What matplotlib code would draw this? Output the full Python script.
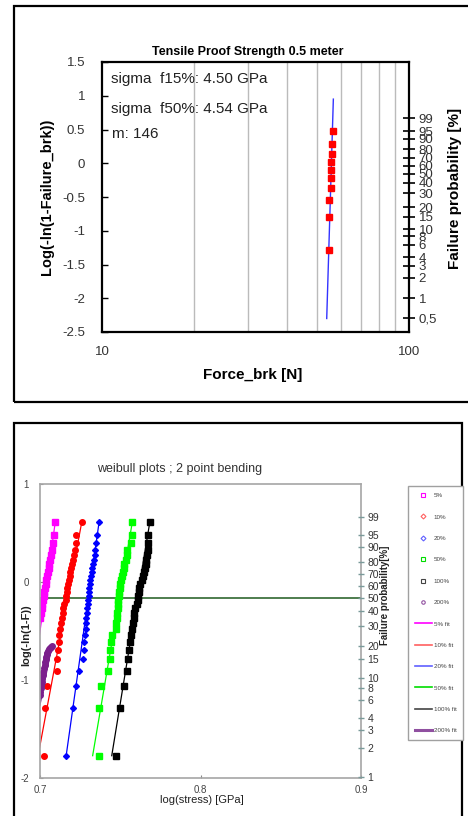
import numpy as np
import matplotlib
matplotlib.use("Agg")
import matplotlib.pyplot as plt
from matplotlib.patches import Rectangle
from matplotlib.lines import Line2D
from matplotlib.ticker import NullFormatter

plt.rcParams['font.family'] = ['Liberation Sans', 'DejaVu Sans']
NARROW = ['Liberation Sans Narrow', 'Liberation Sans', 'DejaVu Sans']

# ---- top chart: tensile proof strength ----
top_prob = [5, 15, 25, 35, 45, 55, 65, 75, 85, 95]          # failure prob [%]
top_force = [55.0, 55.0, 55.0, 55.7, 55.7, 55.7, 55.7, 56.0, 56.0, 56.4]
top_fit_force = [53.95, 56.7]
top_fit_y = [-2.30, 0.95]
top_yticks = [-2.5, -2, -1.5, -1, -0.5, 0, 0.5, 1, 1.5]
top_yticklabels = ['-2.5', '-2', '-1.5', '-1', '-0.5', '0', '0.5', '1', '1.5']
top_prob_ticks = [0.5, 1, 2, 3, 4, 6, 8, 10, 15, 20, 30, 40, 50, 60, 70, 80, 90, 95, 99]
top_prob_labels = ['0,5', '1', '2', '3', '4', '6', '8', '10', '15', '20', '30', '40',
                   '50', '60', '70', '80', '90', '95', '99']
top_notes = ['sigma  f15%: 4.50 GPa', 'sigma  f50%: 4.54 GPa', 'm: 146']

# ---- bottom chart: weibull plots, 2 point bending ----
rank_prob_30 = [1.667, 5.0, 8.333, 11.667, 15.0, 18.333, 21.667, 25.0, 28.333, 31.667,
                35.0, 38.333, 41.667, 45.0, 48.333, 51.667, 55.0, 58.333, 61.667, 65.0,
                68.333, 71.667, 75.0, 78.333, 81.667, 85.0, 88.333, 91.667, 95.0, 98.333]
stress_5 = [0.7003, 0.7006, 0.7011, 0.7014, 0.7017, 0.7022, 0.7026, 0.7031, 0.7036, 0.7040,
            0.7044, 0.7049, 0.7054, 0.7059, 0.7064, 0.7069, 0.7073, 0.7078, 0.7089, 0.7095]
stress_10 = [0.7027, 0.7031, 0.7044, 0.7106, 0.7108, 0.7112, 0.7117, 0.7120, 0.7125, 0.7133,
             0.7137, 0.7141, 0.7145, 0.7150, 0.7162, 0.7164, 0.7166, 0.7170, 0.7176, 0.7181,
             0.7185, 0.7189, 0.7195, 0.7199, 0.7208, 0.7212, 0.7218, 0.7222, 0.7226, 0.7260]
stress_20 = [0.7160, 0.7204, 0.7226, 0.7245, 0.7266, 0.7272, 0.7276, 0.7280, 0.7285, 0.7287,
             0.7289, 0.7293, 0.7295, 0.7297, 0.7301, 0.7303, 0.7305, 0.7307, 0.7312, 0.7313,
             0.7318, 0.7322, 0.7326, 0.7330, 0.7335, 0.7341, 0.7345, 0.7349, 0.7357, 0.7368]
stress_50 = [0.7368, 0.7370, 0.7380, 0.7426, 0.7436, 0.7438, 0.7444, 0.7449, 0.7472, 0.7475,
             0.7480, 0.7482, 0.7484, 0.7486, 0.7488, 0.7490, 0.7492, 0.7497, 0.7500, 0.7505,
             0.7513, 0.7519, 0.7523, 0.7525, 0.7536, 0.7540, 0.7544, 0.7567, 0.7571, 0.7575]
stress_100 = [0.7475, 0.7498, 0.7523, 0.7540, 0.7550, 0.7555, 0.7561, 0.7567, 0.7573, 0.7579,
              0.7584, 0.7588, 0.7594, 0.7603, 0.7609, 0.7611, 0.7615, 0.7619, 0.7625, 0.7634,
              0.7640, 0.7648, 0.7654, 0.7659, 0.7662, 0.7667, 0.7671, 0.7673, 0.7675, 0.7684]
stress_200 = [0.7073, 0.7067, 0.7062, 0.7056, 0.7052, 0.7046, 0.7042, 0.7040, 0.7036, 0.7033,
              0.7029, 0.7025, 0.7021, 0.7017, 0.7013, 0.7011, 0.7006, 0.7004, 0.7002, 0.7000]
y_200 = [-0.650, -0.660, -0.671, -0.687, -0.701, -0.722, -0.738, -0.762, -0.790, -0.813,
         -0.848, -0.882, -0.916, -0.950, -0.984, -1.018, -1.052, -1.086, -1.121, -1.154]

fit_x = {'5%': [0.6990, 0.7095], '10%': [0.6988, 0.7260], '20%': [0.7163, 0.7368],
         '50%': [0.7328, 0.7575], '100%': [0.7447, 0.7684], '200%': [0.6998, 0.7073]}
fit_y = {'5%': [-0.62, 0.612], '10%': [-1.775, 0.612], '20%': [-1.775, 0.612],
         '50%': [-1.775, 0.612], '100%': [-1.775, 0.612], '200%': [-1.26, -0.65]}
bot_prob_ticks = [1, 2, 3, 4, 6, 8, 10, 15, 20, 30, 40, 50, 60, 70, 80, 90, 95, 99]


def weibull_y(p):
    p = np.asarray(p, dtype=float) / 100.0
    return np.log10(-np.log(1.0 - p))


fig = plt.figure(figsize=(4.68, 8.16), dpi=100)

# outer frames
fig.patches.append(Rectangle((14 / 468, 1 - 402 / 816), 1.0, 396 / 816, transform=fig.transFigure,
                             fill=False, ec='black', lw=1.6, clip_on=False))
fig.patches.append(Rectangle((14 / 468, -0.02), 448 / 468, 393 / 816 + 0.02, transform=fig.transFigure,
                             fill=False, ec='black', lw=1.6, clip_on=False))

# ================= top chart =================
ax = fig.add_axes([102 / 468, 1 - 332 / 816, 307 / 468, 270 / 816])
ax.set_xscale('log')
ax.set_xlim(10, 100)
ax.set_ylim(-2.5, 1.5)
ax.set_xticks([10, 100])
ax.set_xticklabels(['10', '100'])
ax.set_xticks([20, 30, 40, 50, 60, 70, 80, 90], minor=True)
ax.xaxis.set_minor_formatter(NullFormatter())
ax.grid(True, which='minor', axis='x', color='#BBBBBB', lw=1)
ax.set_axisbelow(True)
ax.set_yticks(top_yticks)
ax.set_yticklabels(top_yticklabels)
ax.tick_params(axis='y', direction='in', length=4, width=1, labelsize=9.5, labelcolor='#333333', pad=12)
ax.tick_params(axis='x', which='both', length=0, labelsize=9.5, labelcolor='#333333', pad=10)
for s in ax.spines.values():
    s.set_linewidth(1.6)

ax.plot(top_fit_force, top_fit_y, color='#3333FF', lw=1)
ax.plot(top_force, weibull_y(top_prob), 's', color='#FF0000', ms=4.5, mec='#FF0000')

ax.text(0.4756, 1.037, 'Tensile Proof Strength 0.5 meter', transform=ax.transAxes,
        ha='center', va='center', fontsize=9, fontweight='bold')
for txt, yy, xx in zip(top_notes, [0.937, 0.826, 0.733], [0.029, 0.029, 0.033]):
    ax.text(xx, yy, txt, transform=ax.transAxes, ha='left', va='center', fontsize=11, color='#222222')

ax.set_xlabel('Force_brk [N]', fontsize=11, fontweight='bold')
ax.xaxis.set_label_coords(0.49, -0.135)
ax.set_ylabel('Log(-ln(1-Failure_brk))', fontsize=10.5, fontweight='bold')
ax.yaxis.set_label_coords(-0.156, 0.5)

ax2 = ax.twinx()
ax2.set_ylim(-2.5, 1.5)
ax2.set_yticks(weibull_y(top_prob_ticks))
ax2.set_yticklabels(top_prob_labels)
ax2.tick_params(axis='y', direction='inout', length=8, width=1.2, labelsize=9.5,
                labelcolor='#333333', pad=3)
for s in ax2.spines.values():
    s.set_visible(False)
ax2.set_ylabel('Failure probability [%]', fontsize=11, fontweight='bold')
ax2.yaxis.set_label_coords(1.127, 0.533)

# ================= bottom chart =================
bx = fig.add_axes([40 / 468, 1 - 777.7 / 816, 321 / 468, 293.4 / 816])
bx.set_xlim(0.7, 0.9)
bx.set_ylim(-2, 1)
bx.set_xticks([0.7, 0.8, 0.9])
bx.set_xticklabels(['0.7', '0.8', '0.9'])
bx.set_yticks([-2, -1, 0, 1])
bx.set_yticklabels(['-2', '-1', '0', '1'])
bx.tick_params(direction='in', length=2, width=0.8, color='#888888', labelsize=7,
               labelcolor='#444444')
bx.tick_params(axis='y', pad=8)
bx.tick_params(axis='x', pad=5)
for lab in bx.get_xticklabels() + bx.get_yticklabels():
    lab.set_family(NARROW)
for s in bx.spines.values():
    s.set_color('#A6A6A6')
    s.set_linewidth(1.2)

bx.axhline(weibull_y(50), color='#4E7D4E', lw=1.4)

series = [
    ('5%', stress_5, rank_prob_30[10:], '#FF00FF', 's', 4),
    ('10%', stress_10, rank_prob_30, '#FF0000', 'o', 4),
    ('20%', stress_20, rank_prob_30, '#0000FF', 'D', 3),
    ('50%', stress_50, rank_prob_30, '#00FF00', 's', 4),
    ('100%', stress_100, rank_prob_30, '#000000', 's', 4),
]
for name, xs, ps, col, mk, ms in series:
    bx.plot(fit_x[name], fit_y[name], color=col, lw=0.9)
    bx.plot(xs, weibull_y(ps), mk, color=col, ms=ms, mec=col)
bx.plot(fit_x['200%'], fit_y['200%'], color='#7B1F8C', lw=1.2)
bx.plot(stress_200, y_200, 'o', color='#7B1F8C', ms=4, mec='#7B1F8C')

bx.text(0.436, 1.052, 'weibull plots ; 2 point bending', transform=bx.transAxes,
        ha='center', va='center', fontsize=9, family=NARROW, color='#333333')
bx.set_xlabel('log(stress) [GPa]', fontsize=8, family=NARROW, color='#222222')
bx.xaxis.set_label_coords(0.505, -0.058)
bx.set_ylabel('log(-ln(1-F))', fontsize=8, fontweight='bold', color='#222222')
bx.yaxis.set_label_coords(-0.028, 0.486)

bx2 = bx.twinx()
bx2.set_ylim(-2, 1)
bx2.set_yticks(weibull_y(bot_prob_ticks))
bx2.set_yticklabels([str(p) for p in bot_prob_ticks])
bx2.tick_params(axis='y', direction='inout', length=5, width=1, color='#7A9A9A',
                labelsize=7.5, labelcolor='#333333', pad=2)
for lab in bx2.get_yticklabels():
    lab.set_family(NARROW)
for s in bx2.spines.values():
    s.set_visible(False)
bx2.set_ylabel('Failure probability[%]', fontsize=7, fontweight='bold', color='#222222')
bx2.yaxis.set_label_coords(1.059, 0.62)

# legend
leg_cols = {'5%': '#FF00FF', '10%': '#FF6060', '20%': '#6060FF', '50%': '#00DD00',
            '100%': '#444444', '200%': '#9050A0'}
leg_marks = {'5%': 's', '10%': 'D', '20%': 'D', '50%': 's', '100%': 's', '200%': 'o'}
handles = []
for name in ['5%', '10%', '20%', '50%', '100%', '200%']:
    handles.append(Line2D([], [], ls='none', marker=leg_marks[name], mfc='none',
                          mec=leg_cols[name], ms=2.5, mew=0.8, label=name))
for name in ['5%', '10%', '20%', '50%', '100%', '200%']:
    handles.append(Line2D([], [], color=leg_cols[name], lw=2.2 if name == '200%' else 1.2,
                          label=name + ' fit'))
leg = fig.legend(handles=handles, loc='upper left', bbox_to_anchor=(408 / 468, 1 - 486 / 816),
                 fontsize=4.5, labelspacing=2.56, borderpad=1.1, handlelength=2.7,
                 handletextpad=0.3, fancybox=False, edgecolor='#A0A0A0', framealpha=1,
                 borderaxespad=0)
leg.get_frame().set_linewidth(1)
for t in leg.get_texts():
    t.set_color('#444444')

fig.savefig('out.png', dpi=100)
